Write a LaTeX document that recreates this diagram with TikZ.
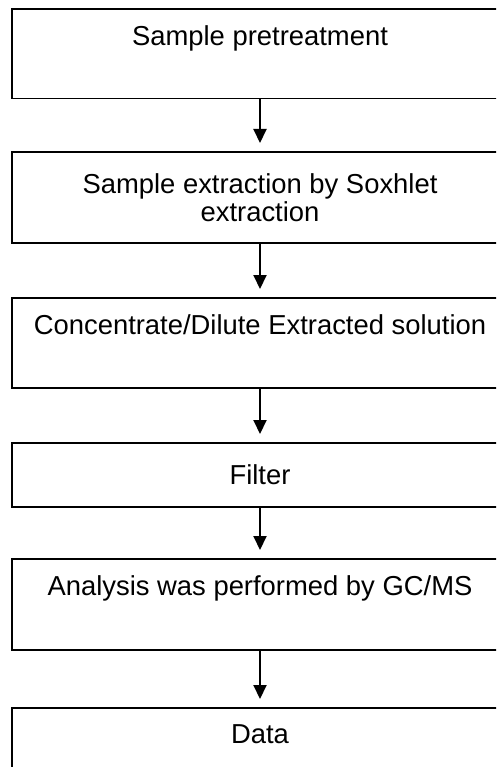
\documentclass[tikz,border=0pt]{standalone}
\usepackage{fontspec}
\setmainfont{Liberation Sans}
\usetikzlibrary{arrows.meta}

\begin{document}
\begin{tikzpicture}[x=1pt, y=-1pt,
		stepbox/.style={draw, line width=1.8pt, minimum width=496pt, inner sep=0pt, outer sep=0pt, align=center, font=\fontsize{27.4}{28.5}\selectfont},
		flow/.style={line width=2pt, -{Triangle[width=13pt,length=14pt]}, shorten >=9pt}]
				\clip (0,0) rectangle (496,767);
				\node[stepbox, minimum height=89.5pt] (pre) at (260,53.75) {Sample pretreatment\\ \strut};
				\node[stepbox, minimum height=91pt] (soxh) at (260,197.5) {Sample extraction by Soxhlet\\extraction};
				\node[stepbox, minimum height=90pt] (conc) at (260,343) {Concentrate/Dilute Extracted solution\\ \strut};
				\node[stepbox, minimum height=64pt] (filt) at (260,475) {Filter};
				\node[stepbox, minimum height=91pt] (gcms) at (260,604.5) {Analysis was performed by GC/MS\\ \strut};
				\node[stepbox, minimum height=90pt] (data) at (260,753) {Data\\ \strut};
				
				\draw[flow] (pre) -- (soxh);
				\draw[flow] (soxh) -- (conc);
				\draw[flow] (conc) -- (filt);
				\draw[flow] (filt) -- (gcms);
				\draw[flow] (gcms) -- (data);
			\end{tikzpicture}
\end{document}
